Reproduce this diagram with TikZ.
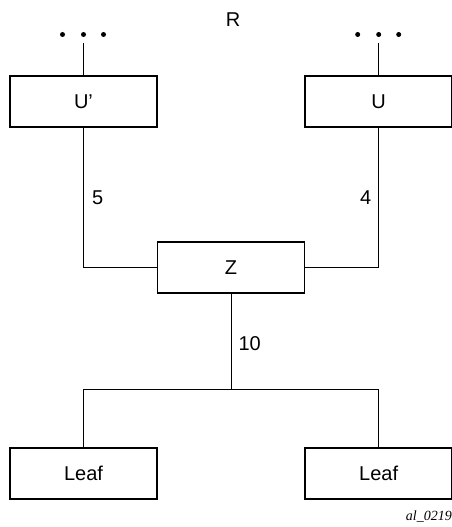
\documentclass[tikz,border=0pt]{standalone}
\usepackage{fontspec}
\setmainfont{Liberation Sans}
\newfontfamily\tagfont{Liberation Serif}
\usetikzlibrary{positioning}

\begin{document}
\begin{tikzpicture}[
    x=1pt, y=1pt,
    node distance=115pt and 146.5pt,
    treebox/.style={rectangle, draw, line width=1.7pt, minimum width=147pt, minimum height=51pt, inner sep=0pt, font=\fontsize{20}{24}\selectfont},
    link/.style={line width=1pt},
    weight/.style={inner sep=0pt, font=\fontsize{20}{24}\selectfont},
    dotnode/.style={circle, fill, minimum size=5pt, inner sep=0pt}
]
\useasboundingbox (0,0) rectangle (452,-527);

% --- Upper routers ---
\node[treebox] (uprime) at (83.5,-101.5) {U’};
\node[treebox, right=146.5pt of uprime] (u) {U};
\node[weight] (r) at (233,-20) {R};

% --- Dots above the upper routers ---
\foreach \k/\dx in {1/-21,2/0,3/20}{
  \node[dotnode] (dl\k) at ([xshift=\dx pt]uprime.north |- 0,-34.5) {};
  \node[dotnode] (dr\k) at ([xshift=\dx pt]u.north |- 0,-34.5) {};
}

% --- Middle router and leaves ---
\node[treebox] (z) at (231,-267.5) {Z};
\node[treebox] (leafl) at (83.5,-473.5) {Leaf};
\node[treebox, right=146.5pt of leafl] (leafr) {Leaf};
\coordinate (fork) at (z |- 0,-389);

% --- Connectors ---
\draw[link, shorten <=6pt] (dl2) -- (uprime.north);
\draw[link, shorten <=6pt] (dr2) -- (u.north);
\draw[link] (uprime.south) |- (z.west) node[weight, pos=0.25, right=8pt] {5};
\draw[link] (u.south) |- (z.east) node[weight, pos=0.25, left=7pt] {4};
\draw[link] (z.south) -- (fork) node[weight, midway, right=7pt, yshift=-2pt] {10};
\draw[link] (fork) -| (leafl.north);
\draw[link] (fork) -| (leafr.north);

% --- Figure tag ---
\node[anchor=east, inner sep=0pt, font=\tagfont\itshape\fontsize{14}{16}\selectfont] (tag) at (452,-516.5) {al\_0219};

\end{tikzpicture}
\end{document}
